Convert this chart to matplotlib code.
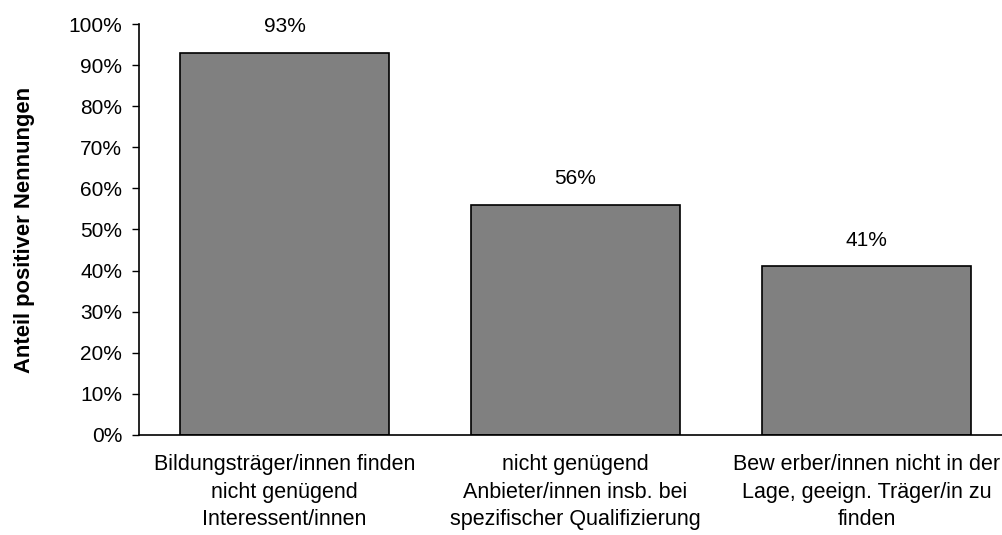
import matplotlib
matplotlib.use("Agg")
import matplotlib.pyplot as plt
from matplotlib.ticker import PercentFormatter, MultipleLocator

plt.rcParams['font.family'] = ['Liberation Sans', 'DejaVu Sans']

categories = ['Bildungsträger/innen finden\nnicht genügend\nInteressent/innen',
              'nicht genügend\nAnbieter/innen insb. bei\nspezifischer Qualifizierung',
              'Bew erber/innen nicht in der\nLage, geeign. Träger/in zu\nfinden']
values = [0.93, 0.56, 0.41]
value_labels = ['93%', '56%', '41%']

fig = plt.figure(figsize=(10.03, 5.35), dpi=100)
ax = fig.add_axes([139/1003, 100/535, 873/1003, 411/535])

x = range(len(categories))
bars = ax.bar(x, values, width=0.72, color='#808080', edgecolor='black', linewidth=1.2)

for b, lab in zip(bars, value_labels):
    ax.annotate(lab, (b.get_x() + b.get_width()/2, b.get_height()),
                xytext=(0, 12), textcoords='offset points',
                ha='center', va='bottom', fontsize=15)

ax.set_xlim(-0.5, 2.5)
ax.set_ylim(0, 1)
ax.yaxis.set_major_locator(MultipleLocator(0.1))
ax.yaxis.set_major_formatter(PercentFormatter(1.0, decimals=0))
ax.set_xticks(list(x))
ax.set_xticklabels(categories, fontsize=15.5, linespacing=1.38)
ax.tick_params(axis='x', length=0, pad=14)
ax.tick_params(axis='y', length=5, width=1, labelsize=15, pad=7)
ax.spines['top'].set_visible(False)
ax.spines['right'].set_visible(False)
ax.spines['left'].set_linewidth(1.2)
ax.spines['bottom'].set_linewidth(1.2)
ax.set_ylabel('Anteil positiver Nennungen', fontsize=15.8, fontweight='bold', labelpad=24)

fig.savefig('out.png', dpi=100)
